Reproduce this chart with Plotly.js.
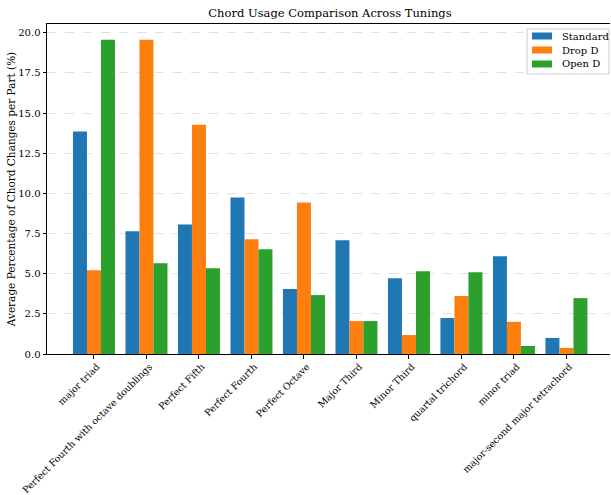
<!DOCTYPE html>
<html>
<head>
<meta charset="utf-8">
<script src="https://cdn.plot.ly/plotly-3.0.1.min.js"></script>
<style>html,body{margin:0;padding:0;background:#fff;}#chart{width:611px;height:495px;}</style>
</head>
<body>
<div id="chart"></div>
<script>
const categories = ["major triad","Perfect Fourth with octave doublings","Perfect Fifth","Perfect Fourth","Perfect Octave","Major Third","Minor Third","quartal trichord","minor triad","major-second major tetrachord"];
const standard = [13.85, 7.64, 8.07, 9.75, 4.04, 7.08, 4.72, 2.24, 6.08, 1.0];
const dropD    = [5.22, 19.57, 14.28, 7.14, 9.44, 2.05, 1.18, 3.61, 2.0, 0.38];
const openD    = [19.57, 5.65, 5.34, 6.52, 3.67, 2.05, 5.16, 5.09, 0.5, 3.48];
const seriesNames = ["Standard","Drop D","Open D"];
const colors = ["#1f77b4","#ff7f0e","#2ca02c"];
const yTicks = [0,2.5,5,7.5,10,12.5,15,17.5,20];

const font = "DejaVu Serif, serif";
const traces = [standard, dropD, openD].map((v,i)=>({
  type:"bar", x:categories, y:v, name:seriesNames[i],
  marker:{color:colors[i], line:{width:0}}
}));

// Legend box (matplotlib-like) drawn in paper coordinates
const shapes = [{
  type:"rect", xref:"paper", yref:"paper", x0:0.8526, x1:0.9982, y0:0.8485, y1:0.9848,
  fillcolor:"rgba(255,255,255,0.85)", line:{color:"#cccccc", width:1}, layer:"above"
}];
const annotations = [];
const rowY = [0.9636, 0.9212, 0.8788];
seriesNames.forEach((n,i)=>{
  shapes.push({type:"rect", xref:"paper", yref:"paper", x0:0.8615, x1:0.8970,
    y0:rowY[i]-0.0106, y1:rowY[i]+0.0106, fillcolor:colors[i], line:{width:0}, layer:"above"});
  annotations.push({xref:"paper", yref:"paper", x:0.9112, y:rowY[i], xanchor:"left", yanchor:"middle",
    text:n, showarrow:false, font:{family:font, size:10, color:"#000"}});
});

const layout = {
  width:611, height:495,
  margin:{l:47, r:1, t:24, b:141},
  paper_bgcolor:"#fff", plot_bgcolor:"#fff",
  font:{family:font, color:"#000", size:10},
  title:{text:"Chord Usage Comparison Across Tunings", font:{family:font, size:11.5, color:"#000"}, x:0.54, xanchor:"center", y:0.981, yanchor:"top"},
  barmode:"group", bargap:0.2, bargroupgap:0,
  showlegend:false,
  shapes:shapes, annotations:annotations,
  xaxis:{
    type:"category", range:[-0.895, 9.83],
    showline:true, linecolor:"#000", linewidth:1, mirror:true,
    ticks:"outside", ticklen:3.5, tickcolor:"#000",
    tickangle:-45, tickfont:{family:font, size:9.5}, ticklabelshift:3, ticklabelstandoff:-1,
    showgrid:false, automargin:false
  },
  yaxis:{
    range:[0, 20.55], tickvals:yTicks, ticktext:yTicks.map(v=>v.toFixed(1)),
    showline:true, linecolor:"#000", linewidth:1, mirror:false,
    ticks:"outside", ticklen:3.5, tickcolor:"#000",
    showgrid:true, gridcolor:"#d3d3d3", griddash:"dash", gridwidth:0.7,
    zeroline:false, tickfont:{family:font, size:10}, automargin:false,
    title:{text:"Average Percentage of Chord Changes per Part (%)", font:{family:font, size:10.5}, standoff:0}
  }
};
Plotly.newPlot("chart", traces, layout, {displayModeBar:false, staticPlot:true});
</script>
</body>
</html>
